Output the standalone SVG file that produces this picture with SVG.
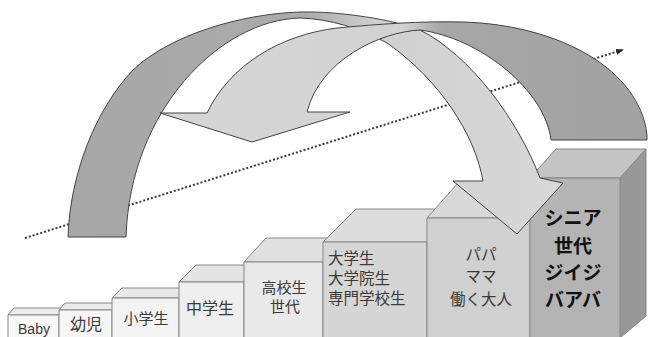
<svg xmlns="http://www.w3.org/2000/svg" width="648" height="337" viewBox="0 0 648 337">
<defs>
<style>
.box{stroke:#878787;stroke-width:1;stroke-linejoin:round}
.t{font-family:"Noto Sans CJK JP","Noto Sans",sans-serif;fill:#3a3a3a;text-anchor:middle}
.tl{font-family:"Noto Sans CJK JP","Noto Sans",sans-serif;fill:#3a3a3a}
.sr{font-family:"Noto Sans CJK JP","Noto Sans",sans-serif;fill:#111;font-weight:bold;text-anchor:middle;font-size:19px}
.arrow{stroke:#444;stroke-width:1;stroke-linejoin:round}
.dots{fill:none;stroke:#3a3a3a;stroke-width:2;stroke-dasharray:2 2}
</style>
<marker id="dotHead" viewBox="0 0 8 6" refX="6" refY="3" markerWidth="8" markerHeight="6" markerUnits="userSpaceOnUse" orient="auto">
<path d="M0,0 L8,3 L0,6 Z" fill="#2a2a2a"/>
</marker>
<linearGradient id="gA" gradientUnits="userSpaceOnUse" x1="68" y1="0" x2="563" y2="0">
<stop offset="0" stop-color="#a7a7a7"/>
<stop offset="0.48" stop-color="#ababab"/>
<stop offset="0.62" stop-color="#d0d0d0"/>
<stop offset="1" stop-color="#d8d8d8"/>
</linearGradient>
<linearGradient id="gB" gradientUnits="userSpaceOnUse" x1="160" y1="0" x2="647" y2="0">
<stop offset="0" stop-color="#d6d6d6"/>
<stop offset="0.5" stop-color="#d2d2d2"/>
<stop offset="0.58" stop-color="#a6a6a6"/>
<stop offset="1" stop-color="#a2a2a2"/>
</linearGradient>
</defs>
<rect width="648" height="337" fill="#ffffff"/>

<g id="connectors">
<path id="timeline" class="dots" d="M25,238 L622,50" marker-end="url(#dotHead)"/>
</g>

<g id="node-baby">
<polygon class="box" points="8,315 14,308 65,308 59,315" fill="#ececec"/>
<rect class="box" x="8" y="315" width="51" height="23" fill="#f8f8f8"/>
<text x="34" y="334" style="font-family:'Liberation Sans',Arial,sans-serif;font-size:14px;fill:#3a3a3a;text-anchor:middle">Baby</text>
</g>

<g id="node-yoji">
<polygon class="box" points="59,310 65,303 118,303 112,310" fill="#ebebeb"/>
<rect class="box" x="59" y="310" width="53" height="28" fill="#f6f6f6"/>
<text class="t" x="86" y="330" font-size="16">幼児</text>
</g>

<g id="node-shogakusei">
<polygon class="box" points="112,298 122,288 189,288 179,298" fill="#e8e8e8"/>
<rect class="box" x="112" y="298" width="67" height="40" fill="#f3f3f3"/>
<text class="t" x="146" y="324" font-size="15">小学生</text>
</g>

<g id="node-chugakusei">
<polygon class="box" points="179,282 196,265 261,265 244,282" fill="#e4e4e4"/>
<rect class="box" x="179" y="282" width="65" height="56" fill="#efefef"/>
<text class="t" x="210" y="314" font-size="16">中学生</text>
</g>

<g id="node-kokosei">
<polygon class="box" points="244,262 266,238 345,238 323,262" fill="#e0e0e0"/>
<rect class="box" x="244" y="262" width="79" height="76" fill="#e9e9e9"/>
<text class="t" x="284" y="293" font-size="15">高校生</text>
<text class="t" x="285" y="312" font-size="15">世代</text>
</g>

<g id="node-daigakusei">
<polygon class="box" points="323,242 356,209 460,209 427,242" fill="#dcdcdc"/>
<rect class="box" x="323" y="242" width="104" height="96" fill="#d6d6d6"/>
<text class="tl" x="328" y="264" font-size="15.5">大学生</text>
<text class="tl" x="328" y="284" font-size="15.5">大学院生</text>
<text class="tl" x="328" y="304" font-size="15.5">専門学校生</text>
</g>

<g id="node-papa">
<polygon class="box" points="427,218 457,184 560,184 530,218" fill="#d8d8d8"/>
<rect class="box" x="427" y="218" width="103" height="120" fill="#d0d0d0"/>
<text class="t" x="481" y="260" font-size="15.5">パパ</text>
<text class="t" x="481" y="282" font-size="15.5">ママ</text>
<text class="t" x="481" y="305" font-size="15.5">働く大人</text>
</g>

<g id="node-senior">
<polygon class="box" points="530,178 556,149 646,149 620,178" fill="#c4c4c4"/>
<polygon class="box" points="620,178 646,149 646,316 620,338" fill="#989898"/>
<rect class="box" x="530" y="178" width="90" height="160" fill="#b4b4b4"/>
<text class="sr" x="573" y="225">シニア</text>
<text class="sr" x="573" y="253">世代</text>
<text class="sr" x="573" y="280">ジイジ</text>
<text class="sr" x="573" y="307">バアバ</text>
</g>

<g id="connectors-arrows">
<path id="arrow-forward" class="arrow" fill="url(#gA)" d="M68,237 C70,175 95,110 133,70 C170,35 240,14 300,12 C340,11 395,20 420,30 C470,55 518,120 540,178 L563,183 L517,234 L453,181 L483,181 C475,135 440,80 387,43 C360,28 330,19 300,18 C220,20 130,110 126,237 Z"/>
<path id="arrow-back" class="arrow" fill="url(#gB)" d="M207,113 C230,65 280,35 337,28 C380,24 420,21 463,22 C560,25 640,70 647,135 L647,140 L551,140 C545,90 480,38 420,30 C380,32 320,60 307,112 L350,112 L252,142 L160,113 Z"/>
</g>
</svg>
